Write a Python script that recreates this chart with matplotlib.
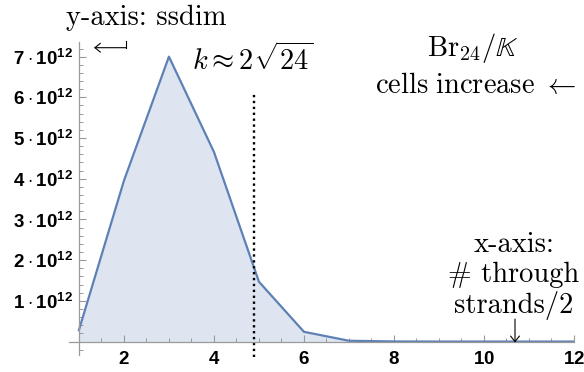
import matplotlib
matplotlib.use("Agg")
import matplotlib.pyplot as plt
from matplotlib.ticker import MultipleLocator
from matplotlib.lines import Line2D
from matplotlib.patches import FancyArrowPatch

# data (ssdim in units of 1e12)
x_vals = [1, 2, 3, 4, 5, 6, 7, 8, 9, 10, 11, 12]
ssdim = [0.28, 3.95, 7.0, 4.66, 1.47, 0.24, 0.02, 0.003, 0.0, 0.0, 0.0, 0.0]
k_line = 4.899  # 2*sqrt(24)/2
y_ticks = [1, 2, 3, 4, 5, 6, 7]
y_tick_labels = [r'$\mathbf{%d\cdot10^{12}}$' % v for v in y_ticks]
x_ticks = [2, 4, 6, 8, 10, 12]
x_tick_labels = [r'$\mathbf{%d}$' % v for v in x_ticks]

plt.rcParams['mathtext.fontset'] = 'custom'
plt.rcParams['mathtext.bf'] = 'Liberation Sans:bold'
plt.rcParams['mathtext.rm'] = 'Liberation Sans'

W, H = 584, 372
fig = plt.figure(figsize=(W / 100, H / 100), dpi=100)
ax = fig.add_axes([69 / W, (H - 355) / H, (574 - 69) / W, (355 - 42) / H])

col = (0.368417, 0.506779, 0.709798)
ax.fill_between(x_vals, ssdim, 0, color=col, alpha=0.2, lw=0)
ax.plot(x_vals, ssdim, color=col, lw=1.6)

ax.set_xlim(0.78, 12.0)
ax.set_ylim(-0.33, 7.36)

ax.plot([k_line, k_line], [-0.38, 6.1], color='black', lw=1.7,
        dashes=(1, 1.5), clip_on=False, solid_capstyle='butt', dash_capstyle='butt')

for s in ['top', 'right']:
    ax.spines[s].set_visible(False)
ax.spines['left'].set_position(('data', 1))
ax.spines['bottom'].set_position(('data', 0))
for s in ['left', 'bottom']:
    ax.spines[s].set_color('#9a9a9a')
    ax.spines[s].set_linewidth(0.9)

ax.set_xticks(x_ticks, x_tick_labels)
ax.set_yticks(y_ticks, y_tick_labels)
ax.xaxis.set_minor_locator(MultipleLocator(0.5))
ax.yaxis.set_minor_locator(MultipleLocator(0.2))
ax.tick_params(which='major', direction='in', length=5, width=0.8, color='#9a9a9a',
               labelsize=13.5, pad=4)
ax.tick_params(which='minor', direction='in', length=3, width=0.7, color='#9a9a9a')
ax.tick_params(axis='x', which='major', pad=5)

FS = 20.5
cm = dict(family='cmr10', color='black', fontsize=FS, ha='center', va='baseline')
fig.text(146.5 / W, 1 - 25 / H, 'y-axis: ssdim', **cm)
fig.text(253 / W, 1 - 70 / H, r'$k \approx 2\sqrt{24}$', ha='center', va='baseline',
         fontsize=FS, math_fontfamily='cm')
fig.text(473 / W, 1 - 56 / H, r'$\mathrm{Br}_{24}/\mathbb{K}$', ha='center', va='baseline',
         fontsize=FS, math_fontfamily='cm')
fig.text(475 / W, 1 - 92.7 / H, r'$\mathrm{cells\ increase}\ \leftarrow$', ha='center',
         va='baseline', fontsize=FS, math_fontfamily='cm')
fig.text(514 / W, 1 - 251.7 / H, 'x-axis:', **cm)
fig.text(514 / W, 1 - 281.7 / H, '# through', **cm)
fig.text(514 / W, 1 - 313 / H, 'strands/2', **cm)

# small hooked arrow near y axis
fig.add_artist(Line2D([126 / W, 126 / W], [1 - 40.5 / H, 1 - 47.7 / H],
                      color='black', lw=0.8, transform=fig.transFigure))
fig.add_artist(FancyArrowPatch(
    (126.4 / W, 1 - 47.7 / H), (94 / W, 1 - 47.7 / H), transform=fig.transFigure,
    arrowstyle='->,head_length=4,head_width=3.2', color='black', lw=0.8,
    shrinkA=0, shrinkB=0))
# down arrow to x axis
fig.add_artist(FancyArrowPatch(
    (515 / W, 1 - 319 / H), (515 / W, 1 - 342.5 / H), transform=fig.transFigure,
    arrowstyle='->,head_length=4,head_width=3.2', color='black', lw=0.8,
    shrinkA=0, shrinkB=0))

fig.savefig('out.png', dpi=100)
